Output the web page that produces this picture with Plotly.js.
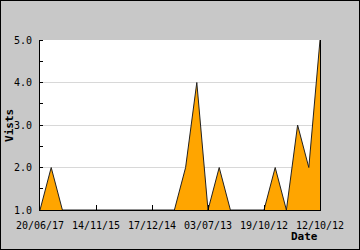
<!DOCTYPE html>
<html>
<head>
<meta charset="utf-8">
<script src="https://cdn.plot.ly/plotly-3.0.1.min.js"></script>
<style>
html,body{margin:0;padding:0;background:#c8c8c8;}
#chart{width:358px;height:248px;border:1px solid #000;}
</style>
</head>
<body>
<div id="chart"></div>
<script>
// Data
const xIndex = [0,1,2,3,4,5,6,7,8,9,10,11,12,13,14,15,16,17,18,19,20,21,22,23,24,25];
const visits = [1,2,1,1,1,1,1,1,1,1,1,1,1,2,4,1,2,1,1,1,1,2,1,3,2,5];
const tickPositions = [0,5,10,15,20,25];
const tickLabels = ['20/06/17','14/11/15','17/12/14','03/07/13','19/10/12','12/10/12'];
const yTicks = [1,2,3,4,5];

const font = 'DejaVu Sans Mono, monospace';

const trace = {
  x: xIndex,
  y: visits,
  type: 'scatter',
  mode: 'lines',
  fill: 'tozeroy',
  fillcolor: '#ffa500',
  line: {color: '#222222', width: 1},
  hoverinfo: 'skip'
};

const layout = {
  width: 358,
  height: 248,
  paper_bgcolor: '#c8c8c8',
  plot_bgcolor: '#ffffff',
  margin: {l: 39, r: 39, t: 39, b: 39, pad: 0},
  showlegend: false,
  font: {family: font, size: 10, color: '#000'},
  xaxis: {
    range: [0, 25],
    tickmode: 'array',
    tickvals: tickPositions,
    ticktext: tickLabels,
    ticks: 'inside',
    ticklen: 5,
    tickcolor: '#000',
    ticklabelstandoff: 6,
    showline: true,
    linecolor: '#000',
    linewidth: 1,
    showgrid: false,
    zeroline: false,
    tickfont: {family: font, size: 10, color: '#000'},
    automargin: false,
    fixedrange: true
  },
  yaxis: {
    range: [1, 5],
    tickmode: 'array',
    tickvals: yTicks,
    tickformat: '.1f',
    ticks: '',
    ticklabelstandoff: 5,
    showline: true,
    mirror: true,
    linecolor: '#000',
    linewidth: 1,
    showgrid: true,
    gridcolor: '#d8d8d8',
    gridwidth: 1,
    zeroline: false,
    tickfont: {family: font, size: 10, color: '#000'},
    minor: {dtick: 0.5, ticks: 'inside', ticklen: 3, tickcolor: '#000', showgrid: false},
    automargin: false,
    fixedrange: true
  },
  annotations: [
    {text: '<b>Date</b>', xref: 'paper', yref: 'paper', x: 1, y: -0.153, xanchor: 'right', yanchor: 'middle',
     showarrow: false, font: {family: font, size: 11, color: '#000'}},
    {text: '<b>Vists</b>', xref: 'paper', yref: 'paper', x: -0.111, y: 0.5, xanchor: 'center', yanchor: 'middle',
     textangle: -90, showarrow: false, font: {family: font, size: 11, color: '#000'}}
  ]
};

Plotly.newPlot('chart', [trace], layout, {staticPlot: true, displayModeBar: false});
</script>
</body>
</html>
